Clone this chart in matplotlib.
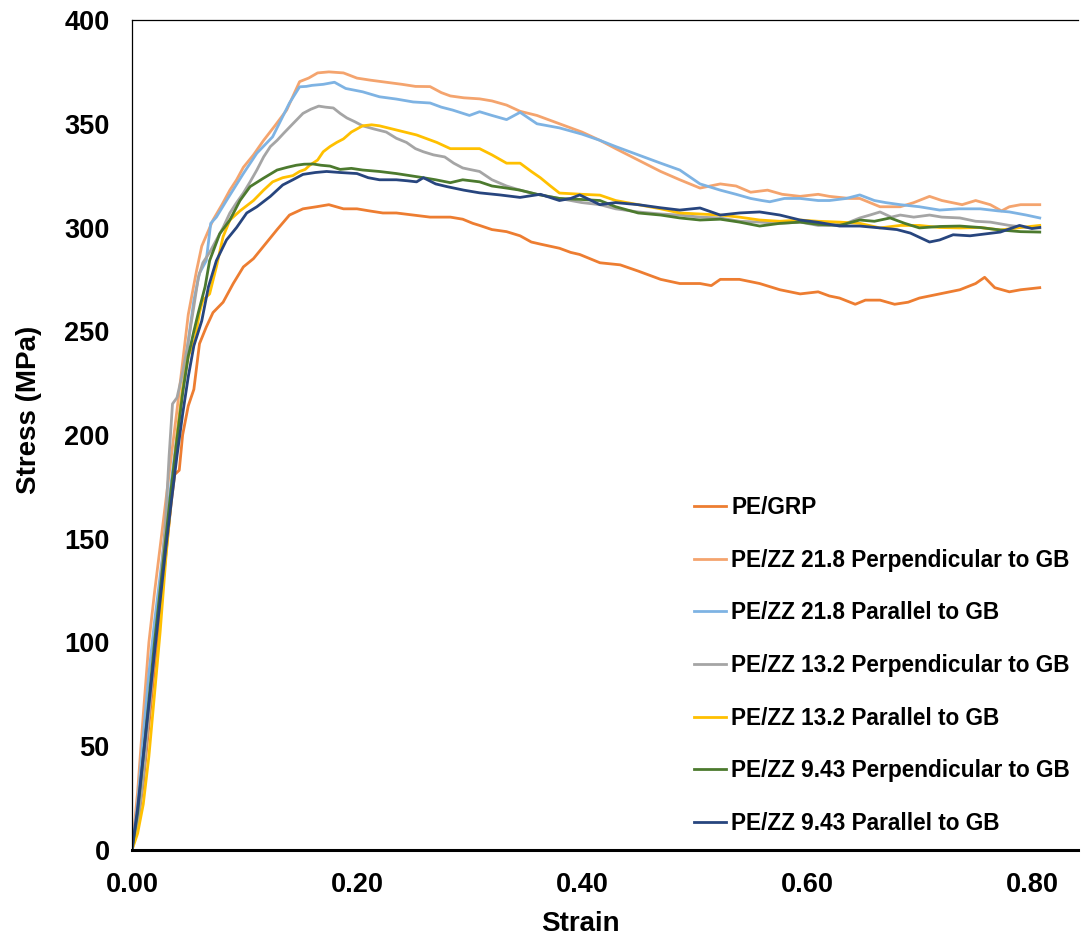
import matplotlib
matplotlib.use("Agg")
import matplotlib.pyplot as plt

plt.rcParams["font.family"] = ["Liberation Sans", "DejaVu Sans"]
plt.rcParams["font.weight"] = "bold"

# ---- data ----
grp_strain = [0, .005, .01, .015, .02, .025, .03, .035, .038, .042, .045, .05, .055, .06, .066,
              .072, .081, .09, .099, .108, .117, .129, .14, .152, .164, .175, .188, .2, .211, .223,
              .235, .25, .265, .283, .294, .303, .309, .32, .333, .345, .355, .363, .38, .39, .398,
              .416, .434, .45, .46, .47, .487, .505, .515, .523, .54, .558, .576, .594, .61, .62,
              .629, .643, .652, .665, .678, .69, .70, .718, .736, .75, .758, .767, .78, .79, .807]
grp_stress = [0, 12, 32, 60, 88, 115, 142, 168, 181, 183, 200, 214, 222, 244, 252,
              259, 264, 273, 281, 285, 291, 299, 306, 309, 310, 311, 309, 309, 308, 307,
              307, 306, 305, 305, 304, 302, 301, 299, 298, 296, 293, 292, 290, 288, 287,
              283, 282, 279, 277, 275, 273, 273, 272, 275, 275, 273, 270, 268, 269, 267,
              266, 263, 265, 265, 263, 264, 266, 268, 270, 273, 276, 271, 269, 270, 271]

zz218_perp_strain = [0, .005, .01, .015, .02, .025, .03, .035, .04, .045, .05, .0575, .062, .072,
                     .080, .087, .093, .099, .108, .117, .127, .1375, .149, .157, .165, .175, .188,
                     .2, .212, .226, .24, .252, .265, .275, .283, .295, .309, .32, .333, .345, .36,
                     .38, .40, .416, .43, .45, .47, .487, .505, .514, .523, .537, .55, .565, .578,
                     .594, .61, .62, .638, .647, .665, .683, .695, .709, .72, .738, .75, .763, .773,
                     .78, .79, .807]
zz218_perp_stress = [0, 28, 65, 100, 124, 146, 168, 190, 212, 235, 258, 279.5, 291, 303.6,
                     311, 318, 323, 329, 335, 342, 349, 356.6, 370.3, 372, 374.5, 375, 374.5,
                     372, 371, 370, 369, 368, 367.9, 365, 363.4, 362.5, 362, 361, 359, 356, 354,
                     350, 346, 342, 338, 332.5, 327, 323, 319, 320, 321, 320, 317, 318, 316,
                     315, 316, 315, 314, 314, 310, 310, 312, 315, 313, 311, 313, 311, 308,
                     310, 311, 311]

zz218_par_strain = [0, .005, .01, .015, .02, .025, .03, .035, .04, .045, .05, .055, .06, .066, .07,
                    .075, .084, .099, .111, .125, .14, .149, .155, .16, .17, .18, .19, .205, .22,
                    .235, .25, .265, .275, .285, .30, .309, .32, .333, .345, .36, .38, .40, .416,
                    .43, .45, .47, .487, .505, .523, .537, .55, .56, .567, .58, .594, .61, .62,
                    .635, .647, .66, .67, .683, .70, .718, .735, .754, .77, .78, .795, .807]
zz218_par_stress = [0, 22, 55, 85, 110, 132, 155, 178, 200, 222, 245, 265, 278, 284, 302,
                    305, 313, 326, 335.8, 343.7, 360, 367.8, 368, 368.5, 369, 370, 367, 365.4, 363,
                    361.9, 360.5, 360, 358, 356.6, 354, 355.8, 354, 352, 355.5, 350, 348, 345, 342,
                    339, 335, 331, 327.7, 321, 318, 316, 314, 313, 312.4, 314, 314, 313, 313,
                    314, 315.7, 313, 312, 311, 310, 308.4, 309, 309, 308, 307.5, 306, 304.6]

zz132_perp_strain = [0, .005, .01, .015, .02, .025, .03, .033, .036, .04, .045, .05, .055, .059,
                     .063, .069, .075, .081, .087, .093, .099, .105, .111, .117, .123, .129, .135,
                     .143, .152, .159, .166, .172, .179, .185, .191, .198, .205, .215, .226, .235,
                     .244, .252, .259, .268, .278, .286, .294, .30, .309, .32, .333, .345, .36,
                     .38, .40, .416, .43, .45, .47, .487, .505, .523, .54, .558, .576, .594, .61,
                     .62, .635, .647, .656, .665, .675, .683, .695, .709, .72, .736, .75, .763,
                     .78, .795, .807]
zz132_perp_stress = [0, 12, 35, 65, 95, 125, 160, 190, 215, 218, 230, 245, 262, 276,
                     283, 288, 294, 300, 307, 312, 316.6, 322, 327.7, 334, 339, 342, 345.5,
                     350, 355, 357, 358.5, 358, 357.6, 355, 352.8, 351, 349, 347.5, 346, 343,
                     341, 338, 336.5, 335, 334, 331, 328.7, 328, 327, 323, 320, 318, 316,
                     314, 312, 311, 309, 307.5, 306.5, 306, 305, 304.6, 303, 302.6, 302, 302.6, 301,
                     301, 302, 304.6, 306, 307.5, 305, 306, 305, 306, 305, 304.6, 303, 302.6,
                     301, 300, 299.8]

zz132_par_strain = [0, .005, .01, .015, .02, .025, .03, .035, .04, .045, .05, .056, .06, .063,
                    .069, .075, .081, .087, .096, .108, .117, .125, .134, .143, .149, .154, .158,
                    .165, .170, .176, .182, .188, .195, .205, .213, .22, .235, .253, .271, .283,
                    .295, .309, .32, .333, .345, .355, .363, .372, .38, .40, .416, .43, .45, .47,
                    .487, .505, .523, .54, .558, .576, .594, .61, .629, .647, .665, .683, .70,
                    .718, .736, .754, .772, .79, .807]
zz132_par_stress = [0, 8, 22, 45, 75, 105, 140, 170, 200, 222, 238, 246, 259, 265,
                    268, 281, 295.6, 303.6, 308, 313, 318, 322, 324, 325, 327, 328, 330,
                    332.5, 336.5, 339, 341, 342.7, 346, 349, 349.5, 349, 347, 344.6, 341, 338,
                    338, 338, 335, 331, 331, 327, 324, 320, 316.6, 316, 315.6, 313, 311, 309,
                    307, 306.5, 306, 305, 303.6, 303, 303.6, 303, 302.6, 302, 299.8, 301, 301,
                    300, 299.8, 300, 298.8, 300, 301]

zz943_perp_strain = [0, .005, .01, .015, .02, .025, .03, .035, .04, .045, .05, .055, .059, .065,
                     .069, .078, .087, .096, .105, .117, .129, .138, .146, .153, .161, .168, .176,
                     .185, .195, .205, .22, .235, .247, .259, .27, .283, .294, .309, .32, .333,
                     .345, .36, .38, .40, .416, .43, .45, .47, .487, .505, .523, .54, .558, .576,
                     .594, .61, .629, .647, .66, .674, .687, .70, .718, .736, .754, .772, .79, .807]
zz943_perp_stress = [0, 18, 45, 72, 100, 125, 150, 175, 198, 220, 238, 250, 259, 271.5,
                     284, 297, 303.6, 313, 319.7, 323.8, 327.7, 329, 330, 330.5, 330.6, 330, 329.6,
                     328, 328.5, 327.7, 327, 326, 325, 324, 323, 321.6, 323, 322, 320, 319,
                     318, 316, 314, 313.5, 313, 310, 307, 306, 304.6, 303.6, 304, 302.6, 300.7, 302,
                     302.6, 301.5, 301, 303.6, 303, 304.6, 302, 299.8, 300.5, 300.7, 300, 298.8, 298, 297.8]

zz943_par_strain = [0, .005, .01, .015, .02, .025, .03, .035, .04, .045, .05, .055, .062, .068,
                    .075, .084, .093, .102, .111, .123, .134, .143, .152, .163, .173, .185, .2,
                    .21, .22, .235, .245, .253, .259, .27, .28, .295, .309, .327, .345, .363,
                    .38, .39, .398, .416, .43, .45, .47, .487, .505, .523, .54, .558, .576, .594,
                    .61, .629, .647, .665, .68, .692, .709, .718, .73, .745, .76, .772, .789,
                    .80, .807]
zz943_par_stress = [0, 20, 45, 70, 95, 120, 145, 168, 190, 210, 228, 243, 255, 271.5,
                    284, 294, 300, 307, 310, 315, 320.5, 323, 325.6, 326.5, 327, 326.5, 326,
                    324, 323, 323, 322.5, 322, 324, 321, 319.7, 318, 316.7, 315.7, 314.5, 316,
                    313, 314, 315.7, 311, 312, 311, 309.5, 308.4, 309.4, 306, 307, 307.5, 306, 303.6,
                    302.5, 300.7, 300.7, 299.8, 299, 297.3, 293, 294, 296.5, 296, 297, 297.8, 301,
                    299.5, 300]

series = [
    ("PE/GRP", grp_strain, grp_stress, "#ED7D31"),
    ("PE/ZZ 21.8 Perpendicular to GB", zz218_perp_strain, zz218_perp_stress, "#F4A46E"),
    ("PE/ZZ 21.8 Parallel to GB", zz218_par_strain, zz218_par_stress, "#7EB3E3"),
    ("PE/ZZ 13.2 Perpendicular to GB", zz132_perp_strain, zz132_perp_stress, "#A5A5A5"),
    ("PE/ZZ 13.2 Parallel to GB", zz132_par_strain, zz132_par_stress, "#FFC000"),
    ("PE/ZZ 9.43 Perpendicular to GB", zz943_perp_strain, zz943_perp_stress, "#4C7A2E"),
    ("PE/ZZ 9.43 Parallel to GB", zz943_par_strain, zz943_par_stress, "#27457E"),
]

fig = plt.figure(figsize=(10.81, 9.43), dpi=100)
ax = fig.add_axes([132 / 1081, 1 - 850 / 943, 946 / 1081, 830 / 943])

for label, x, y, color in series:
    ax.plot(x, y, color=color, linewidth=2.0, label=label, solid_joinstyle="round")

ax.set_xlim(0, 0.841)
ax.set_ylim(0, 400)
ax.set_xticks([0, 0.2, 0.4, 0.6, 0.8])
ax.set_xticklabels(["0.00", "0.20", "0.40", "0.60", "0.80"])
ax.set_yticks(range(0, 401, 50))
ax.tick_params(length=0, labelsize=19.5, pad=16)

ax.spines["right"].set_visible(False)
ax.spines["top"].set_linewidth(0.9)
ax.spines["left"].set_linewidth(0.9)
ax.spines["bottom"].set_linewidth(2.2)
for s in ("top", "left", "bottom"):
    ax.spines[s].set_color("#000000")

ax.set_xlabel("Strain", fontsize=20, fontweight="bold")
ax.set_ylabel("Stress (MPa)", fontsize=20, fontweight="bold")
ax.xaxis.set_label_coords(0.474, -0.073)
ax.yaxis.set_label_coords(-0.095, 0.53)

ax.legend(loc="upper left", bbox_to_anchor=(694 / 1081, 1 - 496 / 943),
          bbox_transform=fig.transFigure, frameon=False, fontsize=16.3,
          handlelength=1.4, handletextpad=0.25, labelspacing=1.31,
          borderpad=0, borderaxespad=0)

fig.savefig("out.png", dpi=100)
